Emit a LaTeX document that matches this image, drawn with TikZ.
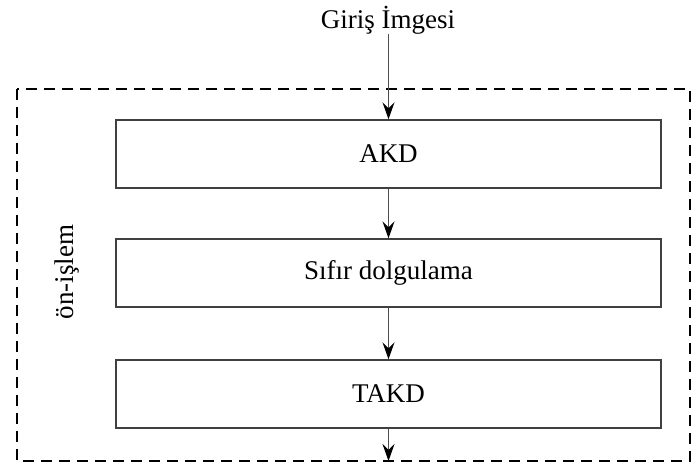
\documentclass[tikz,border=0pt]{standalone}
\usepackage{fontspec}
\setmainfont{Liberation Serif}
\usetikzlibrary{arrows.meta}
\begin{document}
\begin{tikzpicture}[x=1pt,y=1pt,
  stage/.style={draw=black!75, line width=1.4pt, minimum width=545pt, minimum height=68pt, inner sep=0pt, font=\fontsize{27}{30}\selectfont},
  flow/.style={draw=black!70, line width=1pt, -{Stealth[length=17pt,width=12pt,inset=6pt,black]}},
  grp/.style={draw=black, line width=2.6pt, dash pattern=on 11pt off 7pt}]
\useasboundingbox (0,0) rectangle (692,470);
\fill[white] (0,0) rectangle (692,470);
\node[font=\fontsize{27}{30}\selectfont] (in) at (388,450) {Giriş İmgesi};
\draw[grp] (17,381) rectangle (690,9);
\node[stage] (akd) at (388.5,316) {AKD};
\node[stage] (sd) at (388.5,197) {Sıfır dolgulama};
\node[stage] (takd) at (388.5,76) {TAKD};
\node[rotate=90, font=\fontsize{27}{30}\selectfont] (lbl) at (67,198) {ön-işlem};
\coordinate (out) at (388.5,9);
\draw[flow] (388.5,436) -- (akd.north);
\draw[flow] (akd) -- (sd);
\draw[flow] (sd) -- (takd);
\draw[flow] (takd) -- (out);
\end{tikzpicture}
\end{document}
